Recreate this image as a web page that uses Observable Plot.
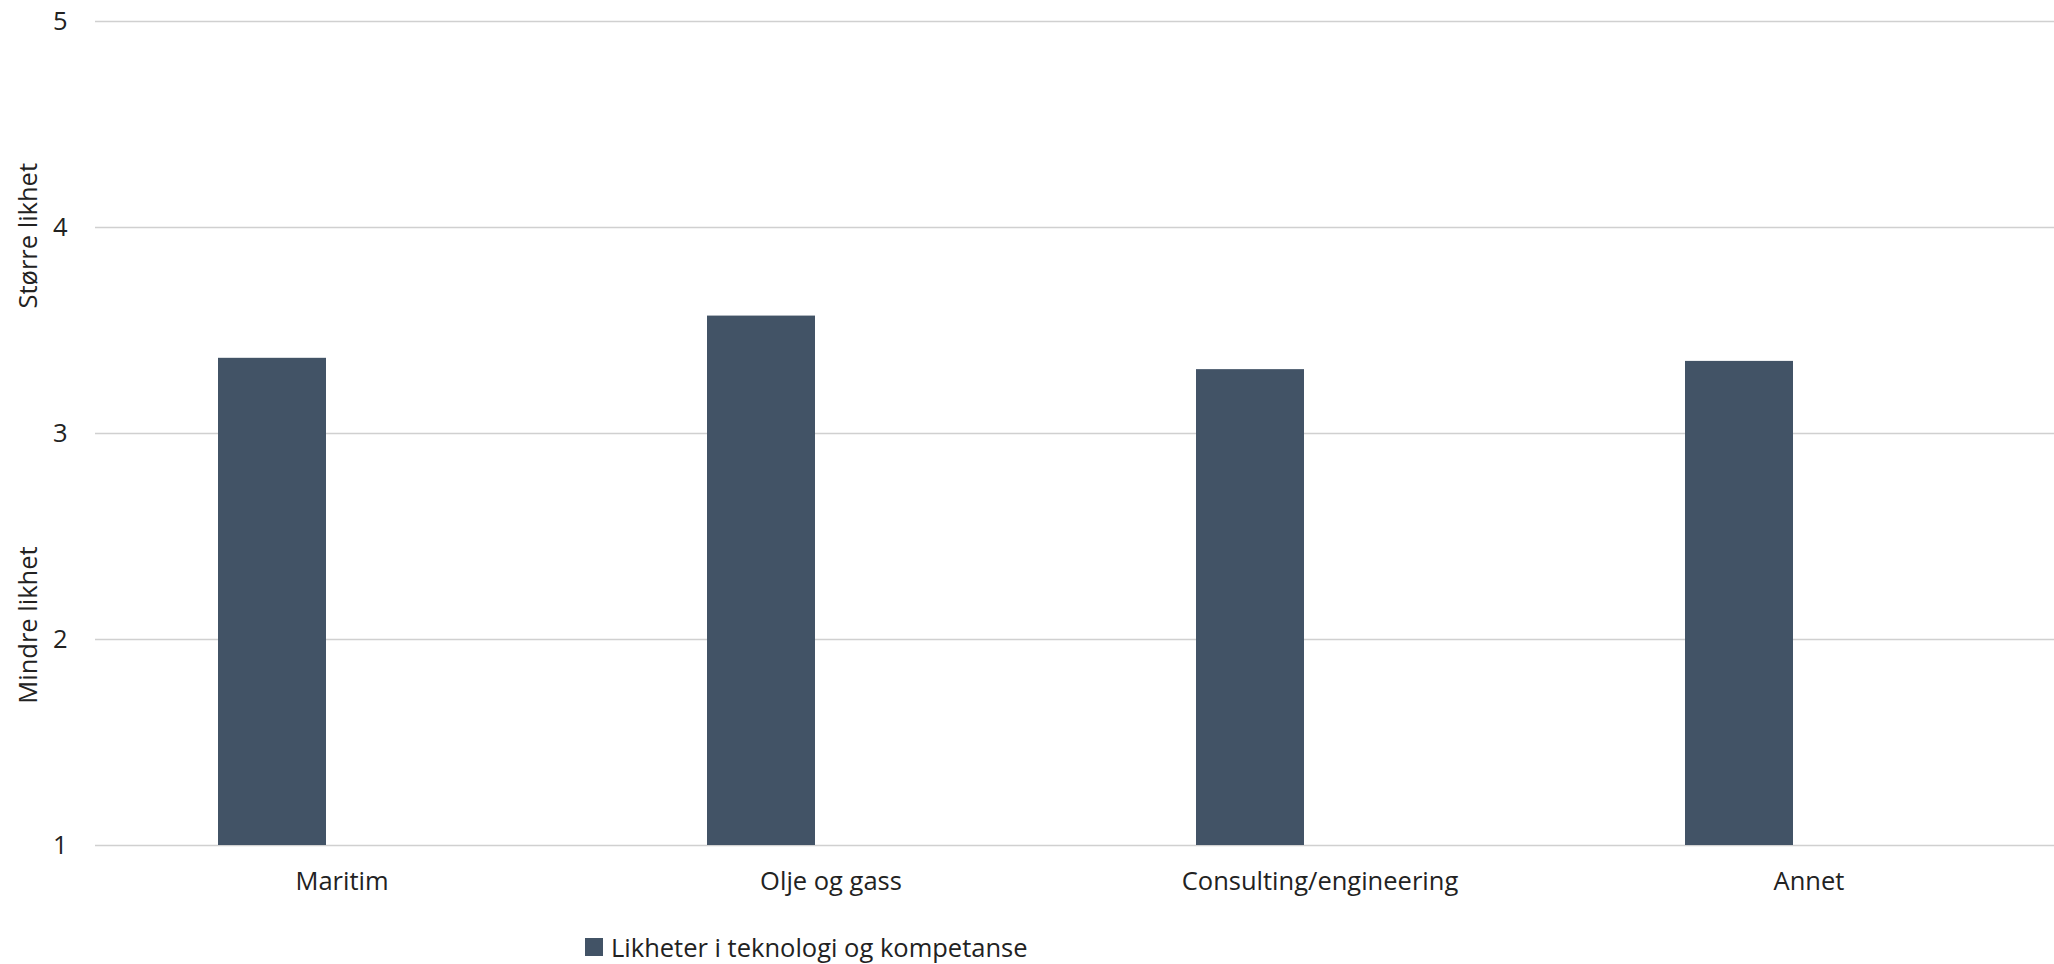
<!DOCTYPE html>
<html>
<head>
<meta charset="utf-8">
<script src="https://cdn.jsdelivr.net/npm/d3@7"></script>
<script src="https://cdn.jsdelivr.net/npm/@observablehq/plot@0.6"></script>
<style>
  html, body { margin: 0; padding: 0; background: #fff; }
  body { font-family: "Open Sans", sans-serif; color: #222; width: 2054px; height: 964px; overflow: hidden; }
  #chart svg { display: block; }
  #legend { display: flex; align-items: center; padding-left: 585px; margin-top: 15px; font-size: 25.5px; line-height: 34px; color: #222; }
  #legend .sw { width: 18px; height: 18px; margin-right: 8px; }
</style>
</head>
<body>
<div id="chart"></div>
<div id="legend"></div>
<script>
const categories = ["Maritim", "Olje og gass", "Consulting/engineering", "Annet"];
const values = [3.365, 3.57, 3.31, 3.35];
const seriesName = "Likheter i teknologi og kompetanse";
const yTicks = [1, 2, 3, 4, 5];
const yTitleLabels = ["Større likhet", "Mindre likhet"];
const yTitleValues = [3.96, 2.07];

const barColor = "#425366";
const data = categories.map((c, i) => ({category: c, value: values[i]}));
const titles = yTitleLabels.map((t, i) => ({label: t, y: yTitleValues[i]}));

const chart = Plot.plot({
  width: 2054,
  height: 915,
  marginLeft: 95,
  marginRight: 0,
  marginTop: 21,
  marginBottom: 70,
  style: {fontFamily: "Open Sans, sans-serif", fontSize: "25.5px", color: "#222", background: "#fff"},
  x: {domain: categories, padding: 0, label: null, tickSize: 0, tickPadding: 26},
  y: {domain: [1, 5], ticks: yTicks, label: null, tickSize: 0, tickPadding: 28, tickFormat: d3.format("d")},
  marks: [
    Plot.ruleY(yTicks, {stroke: "#d0d0d0", strokeWidth: 1.5}),
    Plot.barY(data, {x: "category", y1: 1, y2: "value", fill: barColor, insetLeft: 121, insetRight: 260}),
    Plot.text(titles, {y: "y", text: "label", frameAnchor: "left", textAnchor: "middle", dx: -67, rotate: -90, fontSize: 25.5, fill: "#222"})
  ]
});
document.getElementById("chart").append(chart);

const lg = document.getElementById("legend");
const sw = document.createElement("span"); sw.className = "sw"; sw.style.background = barColor;
const tx = document.createElement("span"); tx.textContent = seriesName;
lg.append(sw, tx);
</script>
</body>
</html>
